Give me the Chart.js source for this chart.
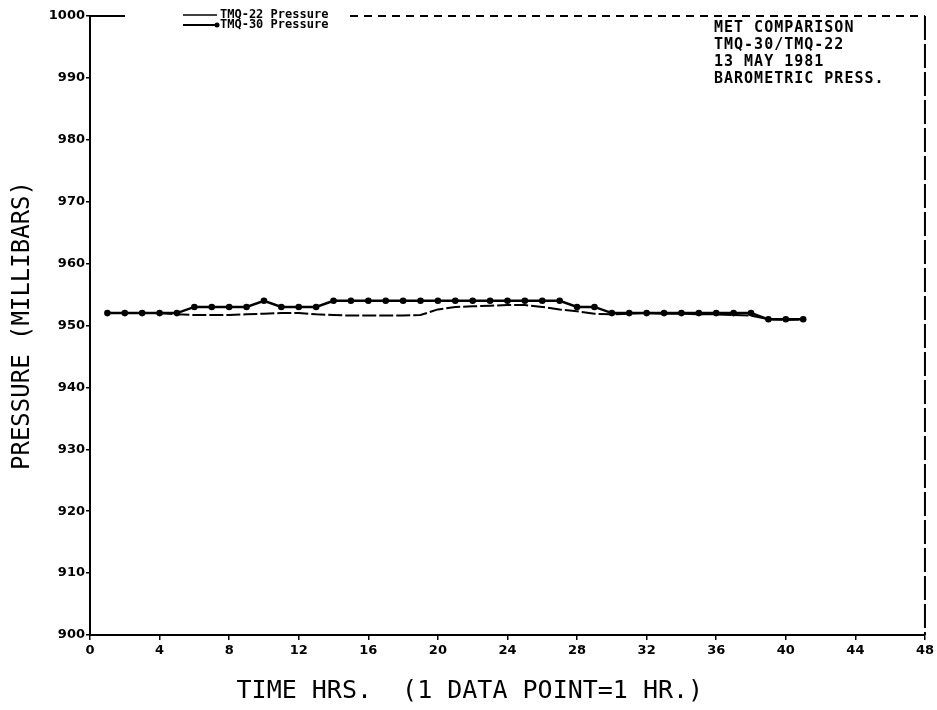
<!DOCTYPE html>
<html>
<head>
<meta charset="utf-8">
<script src="https://cdn.jsdelivr.net/npm/chart.js@4.4.1/dist/chart.umd.min.js"></script>
<style>
  html, body { margin: 0; padding: 0; background: #fff; }
  #wrap { width: 937px; height: 710px; position: relative; }
</style>
</head>
<body>
<div id="wrap"><canvas id="pressureChart" width="937" height="710"></canvas></div>
<script>
// Hourly readings, 13 May 1981
const hours = [1, 2, 3, 4, 5, 6, 7, 8, 9, 10, 11, 12, 13, 14, 15, 16, 17, 18, 19, 20,
  21, 22, 23, 24, 25, 26, 27, 28, 29, 30, 31, 32, 33, 34, 35, 36, 37, 38, 39, 40, 41];
const tmq22 = [952.0, 952.0, 952.0, 952.0, 951.8, 951.7, 951.7, 951.7, 951.8, 951.9,
  952.0, 952.0, 951.8, 951.7, 951.6, 951.6, 951.6, 951.6, 951.7, 952.6,
  953.0, 953.1, 953.2, 953.3, 953.3, 953.0, 952.6, 952.3, 951.9, 951.8,
  951.9, 952.0, 951.9, 951.9, 951.8, 951.8, 951.7, 951.6, 951.0, 950.9, 951.0];
const tmq30 = [952, 952, 952, 952, 952, 953, 953, 953, 953, 954,
  953, 953, 953, 954, 954, 954, 954, 954, 954, 954,
  954, 954, 954, 954, 954, 954, 954, 953, 953, 952,
  952, 952, 952, 952, 952, 952, 952, 952, 951, 951, 951];
const xTickValues = [0, 4, 8, 12, 16, 20, 24, 28, 32, 36, 40, 44, 48];
const yTickValues = [900, 910, 920, 930, 940, 950, 960, 970, 980, 990, 1000];
const seriesNames = ["TMQ-22 Pressure", "TMQ-30 Pressure"];
const notes = ["MET COMPARISON", "TMQ-30/TMQ-22", "13 MAY 1981", "BAROMETRIC PRESS."];

const toPoints = (vals) => hours.map((h, i) => ({ x: h, y: vals[i] }));

// frame top/right, legend and the text block in the corner
const plotExtras = {
  id: "plotExtras",
  afterDraw(chart) {
    const { ctx, chartArea: a } = chart;
    ctx.save();
    ctx.strokeStyle = "#000";
    ctx.lineWidth = 2;
    ctx.beginPath();
    ctx.moveTo(a.left, a.top);
    ctx.lineTo(a.left + 35, a.top);
    ctx.stroke();
    ctx.setLineDash([8, 6]);
    ctx.beginPath();
    ctx.moveTo(350, a.top);
    ctx.lineTo(a.right, a.top);
    ctx.stroke();
    ctx.setLineDash([24, 4]);
    ctx.beginPath();
    ctx.moveTo(a.right, a.top);
    ctx.lineTo(a.right, a.bottom);
    ctx.stroke();
    ctx.setLineDash([]);

    // legend
    ctx.font = "bold 12px 'DejaVu Sans Mono'";
    ctx.fillStyle = "#000";
    ctx.textBaseline = "middle";
    ctx.lineWidth = 1.5;
    ctx.beginPath();
    ctx.moveTo(183, 15);
    ctx.lineTo(217, 15);
    ctx.stroke();
    ctx.fillText(seriesNames[0], 220, 15);
    ctx.lineWidth = 2;
    ctx.beginPath();
    ctx.moveTo(183, 25);
    ctx.lineTo(217, 25);
    ctx.stroke();
    ctx.beginPath();
    ctx.arc(217, 25, 2.5, 0, Math.PI * 2);
    ctx.fill();
    ctx.fillText(seriesNames[1], 220, 25);

    // notes
    ctx.font = "bold 15px 'DejaVu Sans Mono'";
    ctx.letterSpacing = "1px";
    notes.forEach((t, i) => ctx.fillText(t, 714, 28 + i * 17));
    ctx.restore();
  },
};

const ctx = document.getElementById("pressureChart").getContext("2d");
const pressureChart = new Chart(ctx, {
  type: "line",
  data: {
    datasets: [
      {
        label: seriesNames[0],
        data: toPoints(tmq22),
        borderColor: "#000",
        borderWidth: 2,
        borderDash: [14, 3],
        pointRadius: 0,
        tension: 0,
      },
      {
        label: seriesNames[1],
        data: toPoints(tmq30),
        borderColor: "#000",
        backgroundColor: "#000",
        borderWidth: 2.5,
        pointRadius: 3.3,
        pointBackgroundColor: "#000",
        pointBorderWidth: 0,
        tension: 0,
      },
    ],
  },
  options: {
    responsive: false,
    animation: false,
    layout: { padding: { left: 0, right: 9, top: 16, bottom: 0 } },
    plugins: {
      legend: { display: false },
      tooltip: { enabled: false },
    },
    scales: {
      x: {
        type: "linear",
        min: 0,
        max: 48,
        afterBuildTicks: (scale) => {
          scale.ticks = xTickValues.map((v) => ({ value: v }));
        },
        afterFit: (scale) => {
          scale.height = 75;
        },
        grid: { display: true, drawOnChartArea: false, drawTicks: true, tickLength: 5, color: "#000", lineWidth: 1.5 },
        border: { display: true, color: "#000", width: 2, dash: [10, 4] },
        ticks: {
          color: "#000",
          padding: 3,
          maxRotation: 0,
          callback: (v) => String(v),
          font: { family: "'DejaVu Sans'", size: 13, weight: "bold" },
        },
        title: {
          display: true,
          text: "TIME HRS.  (1 DATA POINT=1 HR.)     ",
          color: "#000",
          font: { family: "'DejaVu Sans Mono'", size: 25 },
          padding: { top: 0, bottom: 4 },
        },
      },
      y: {
        min: 900,
        max: 1000,
        afterBuildTicks: (scale) => {
          scale.ticks = yTickValues.map((v) => ({ value: v }));
        },
        afterFit: (scale) => {
          scale.width = 90;
        },
        grid: { display: true, drawOnChartArea: false, drawTicks: true, tickLength: 4, color: "#000", lineWidth: 1.5 },
        border: { display: true, color: "#000", width: 2 },
        ticks: {
          color: "#000",
          padding: 1,
          callback: (v) => String(v),
          font: { family: "'DejaVu Sans'", size: 13, weight: "bold" },
        },
        title: {
          display: true,
          text: "PRESSURE (MILLIBARS)",
          color: "#000",
          font: { family: "'DejaVu Sans Mono'", size: 24 },
          padding: { top: 8, bottom: 0 },
        },
      },
    },
  },
  plugins: [plotExtras],
});
</script>
</body>
</html>
